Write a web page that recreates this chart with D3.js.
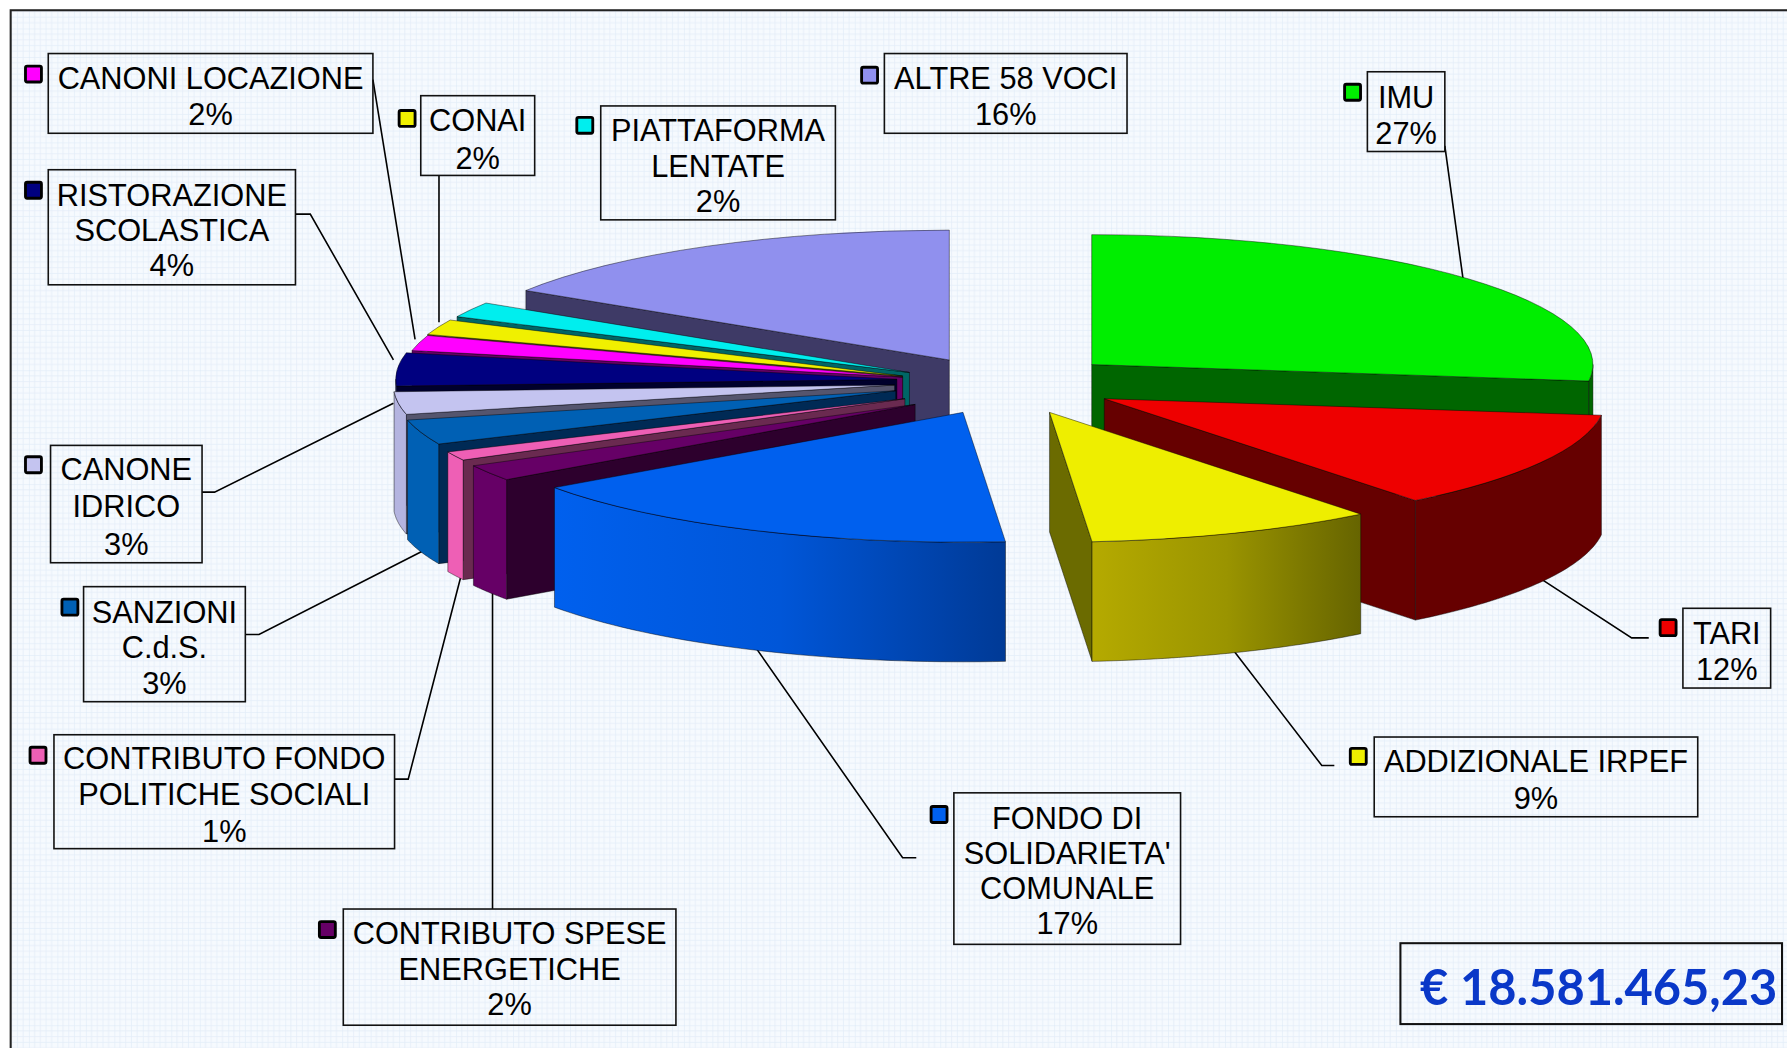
<!DOCTYPE html>
<html>
<head>
<meta charset="utf-8">
<script src="https://cdn.jsdelivr.net/npm/d3@7"></script>
<style>
    html, body { margin: 0; padding: 0; background: #fff; }
    svg { display: block; }
    .label { font-family: "Liberation Sans", Arial, sans-serif; font-size: 27px; fill: #000; text-anchor: middle; }
    .total { font-family: Lato, "Open Sans", sans-serif; font-weight: 700; font-size: 42.8px; fill: #0a38c8; text-anchor: middle; }
</style>
</head>
<body>
<svg id="chart"></svg>
<script>
// Data, clockwise from 12 o'clock
const categories = [
    'IMU', 'TARI', 'ADDIZIONALE IRPEF', "FONDO DI|SOLIDARIETA'|COMUNALE",
    'CONTRIBUTO SPESE|ENERGETICHE', 'CONTRIBUTO FONDO|POLITICHE SOCIALI', 'SANZIONI|C.d.S.',
    'CANONE|IDRICO', 'RISTORAZIONE|SCOLASTICA', 'CANONI LOCAZIONE', 'CONAI',
    'PIATTAFORMA|LENTATE', 'ALTRE 58 VOCI'
];
const values = [27.0, 12.3, 9.3, 16.5, 2.0, 1.1, 3.1, 2.8, 4.1, 1.9, 1.9, 1.9, 16.0];
const total = '€ 18.581.465,23';

const topColors = ['#00ee00', '#ee0000', '#eeee00', '#0060ee', '#660066', '#ee5fb5', '#0060b4', '#c4c4f0', '#000080', '#ff00ff', '#f0f000', '#00eeee', '#9090ee'];
const wallColors = ['#006600', '#660000', '#6b6b00', '#003a8c', '#2d002d', '#6a2a50', '#002a55', '#55556e', '#00002c', '#660066', '#555500', '#006666', '#3e3a66'];
const rimColors = ['#006600', '#660000', 'url(#rim2)', 'url(#rim3)', '#660066', '#ee5fb5', '#0060b4', '#b4b4e0', '#000080', '#660066', '#555500', '#006666', '#3e3a66'];

// Layout, in the 1568x920 space of the viewBox
const rx = 440, ry = 114, depth = 105;
const centers = [[958, 320], [969, 350], [921, 362], [845, 362], [803, 355], [794, 350], [786, 343], [785, 338], [787, 333], [792, 331], [792, 330], [798, 327], [833, 316]];
const drawOrder = [12, 0, 11, 10, 9, 8, 7, 6, 5, 4, 1, 2, 3];

// box: x0, y0, x1, y1 ; swatch: x, y ; line: first baseline, line spacing
const boxes = [
    { box: [1200, 63, 1268, 133], swatch: [1180, 74], y: 95, dy: 31 },
    { box: [1477, 534, 1554, 604], swatch: [1457, 544], y: 565, dy: 32 },
    { box: [1206, 647, 1490, 717], swatch: [1185, 657], y: 678, dy: 32 },
    { box: [837, 696, 1036, 829], swatch: [817, 708], y: 728, dy: 30.5 },
    { box: [301, 798, 593, 900], swatch: [280, 809], y: 829, dy: 31 },
    { box: [47, 645, 346, 745], swatch: [26, 656], y: 675, dy: 32 },
    { box: [73, 515, 215, 616], swatch: [54, 526], y: 547, dy: 31 },
    { box: [44, 391, 177, 494], swatch: [22, 401], y: 421, dy: 33 },
    { box: [42, 149, 259, 250], swatch: [22, 160], y: 181, dy: 30.5 },
    { box: [42, 47, 327, 117], swatch: [22, 58], y: 78, dy: 32 },
    { box: [369, 84, 469, 154], swatch: [350, 97], y: 115, dy: 33 },
    { box: [527, 93, 733, 193], swatch: [506, 103], y: 124, dy: 31 },
    { box: [776, 47, 989, 117], swatch: [756, 59], y: 78, dy: 32 }
];
const leaders = [
    [[1268, 128], [1284, 245]],
    [[1447, 560], [1432, 560], [1352, 508]],
    [[1171, 672], [1160, 672], [1081, 569]],
    [[804, 753], [792, 753], [662, 567]],
    [[432, 798], [432, 517]],
    [[346, 684], [358, 684], [405, 503]],
    [[215, 557], [227, 557], [372, 483]],
    [[177, 432], [188, 432], [345, 354]],
    [[259, 188], [272, 188], [345, 316]],
    [[327, 70], [364, 298]],
    [[385, 154], [385, 283]]
];

const svg = d3.select('#chart')
    .attr('width', 1787)
    .attr('height', 1048)
    .attr('viewBox', '0 0 1568 920');

// Squared paper background
const defs = svg.append('defs');
const grid = defs.append('pattern')
    .attr('id', 'grid')
    .attr('width', 25).attr('height', 25)
    .attr('patternUnits', 'userSpaceOnUse');
grid.append('rect').attr('width', 25).attr('height', 25).attr('fill', '#f6fafe');
d3.range(0, 25, 5).forEach(p => {
    const color = p === 0 ? '#d3e2f4' : '#e4edf8';
    grid.append('path').attr('d', `M${p} 0V25`).attr('stroke', color).attr('stroke-width', 0.7);
    grid.append('path').attr('d', `M0 ${p}H25`).attr('stroke', color).attr('stroke-width', 0.7);
});

const addGradient = (id, stops) => {
    const g = defs.append('linearGradient').attr('id', id);
    stops.forEach((c, i) => g.append('stop').attr('offset', i / (stops.length - 1)).attr('stop-color', c));
};
addGradient('rim2', ['#b5aa00', '#9a9400', '#666400']);
addGradient('rim3', ['#0060ee', '#0056d8', '#003a96']);

svg.append('rect')
    .attr('x', 9).attr('y', 9)
    .attr('width', 1575).attr('height', 927)
    .attr('fill', 'url(#grid)')
    .attr('stroke', '#222').attr('stroke-width', 1.8);

// Leader lines go under the pie
const line = d3.line();
svg.append('g').selectAll('path')
    .data(leaders)
    .enter()
    .append('path')
    .attr('d', line)
    .attr('fill', 'none')
    .attr('stroke', '#000')
    .attr('stroke-width', 1.4);

// Pie layout
const pie = d3.pie().sort(null).value(d => d);
const slices = pie(values);

const arc = d3.arc().innerRadius(0).outerRadius(rx);
const project = (c, a, z) => [c[0] + rx * Math.sin(a), c[1] - ry * Math.cos(a) + z];

const pieGroup = svg.append('g');
const edge = sel => sel
    .attr('stroke', '#000')
    .attr('stroke-opacity', 0.55)
    .attr('stroke-width', 0.8)
    .attr('stroke-linejoin', 'round')
    .attr('vector-effect', 'non-scaling-stroke');

drawOrder.forEach(i => {
    const s = slices[i];
    const c = centers[i];
    const g = pieGroup.append('g');

    // Only the walls facing the viewer are drawn
    const radial = a => line([c, project(c, a, 0), project(c, a, depth), [c[0], c[1] + depth]]) + 'Z';
    if (Math.sin(s.startAngle) < 0) {
        g.append('path').attr('d', radial(s.startAngle)).attr('fill', wallColors[i]).call(edge);
    }
    if (Math.sin(s.endAngle) > 0) {
        g.append('path').attr('d', radial(s.endAngle)).attr('fill', wallColors[i]).call(edge);
    }

    // Outer wall, front half only
    const a0 = Math.max(s.startAngle, Math.PI / 2);
    const a1 = Math.min(s.endAngle, 3 * Math.PI / 2);
    if (a1 > a0) {
        const steps = d3.range(0, 41).map(k => a0 + (a1 - a0) * k / 40);
        const rim = steps.map(a => project(c, a, 0))
            .concat(steps.slice().reverse().map(a => project(c, a, depth)));
        g.append('path').attr('d', line(rim) + 'Z').attr('fill', rimColors[i]).call(edge);
    }

    // Top face: a circular arc squashed to the ellipse
    g.append('path')
        .attr('d', arc(s))
        .attr('transform', `translate(${c[0]},${c[1]}) scale(1,${ry / rx})`)
        .attr('fill', topColors[i])
        .call(edge);
});

// Labels
const labels = svg.append('g').selectAll('g')
    .data(categories)
    .enter()
    .append('g');

labels.append('rect')
    .attr('x', (d, i) => boxes[i].box[0])
    .attr('y', (d, i) => boxes[i].box[1])
    .attr('width', (d, i) => boxes[i].box[2] - boxes[i].box[0])
    .attr('height', (d, i) => boxes[i].box[3] - boxes[i].box[1])
    .attr('fill', 'none')
    .attr('stroke', '#111')
    .attr('stroke-width', 1.4);

labels.append('rect')
    .attr('x', (d, i) => boxes[i].swatch[0])
    .attr('y', (d, i) => boxes[i].swatch[1])
    .attr('width', 14).attr('height', 14)
    .attr('rx', 1.5)
    .attr('fill', (d, i) => topColors[i])
    .attr('stroke', '#000')
    .attr('stroke-width', 2.5);

labels.each(function(d, i) {
    const b = boxes[i];
    const lines = d.split('|').concat(`${Math.round(values[i])}%`);
    d3.select(this).selectAll('text')
        .data(lines)
        .enter()
        .append('text')
        .attr('class', 'label')
        .attr('x', (b.box[0] + b.box[2]) / 2)
        .attr('y', (t, k) => b.y + k * b.dy)
        .text(t => t);
});

// Total box
svg.append('rect')
    .attr('x', 1229).attr('y', 828)
    .attr('width', 335).attr('height', 71)
    .attr('fill', 'none')
    .attr('stroke', '#111')
    .attr('stroke-width', 1.8);
svg.append('text')
    .attr('class', 'total')
    .attr('x', 1403).attr('y', 882)
    .text(total);
</script>
</body>
</html>
